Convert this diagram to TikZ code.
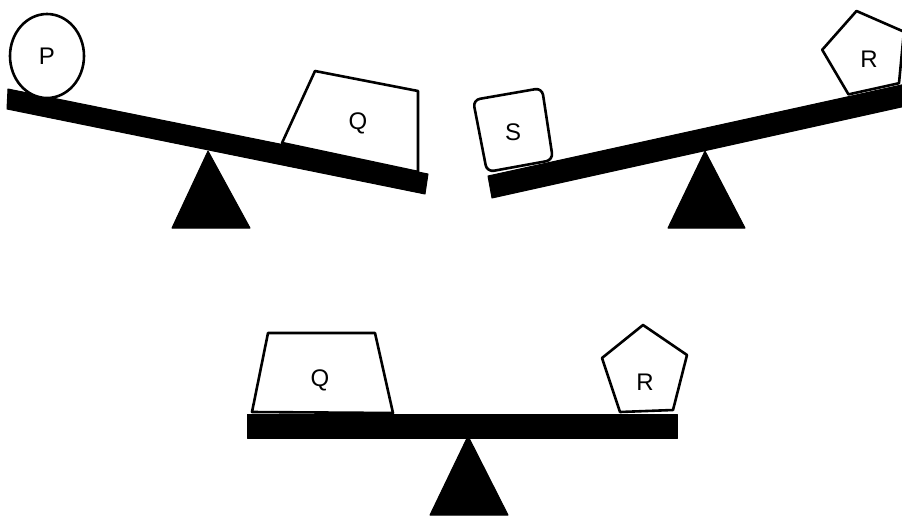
\documentclass[tikz,border=0pt]{standalone}
\usepackage{fontspec}
\setmainfont{Liberation Sans}
\begin{document}
\begin{tikzpicture}[x=1pt,y=-1pt,
  beam/.style={fill=black,draw=black,line width=1pt,line join=round},
  pivot/.style={fill=black,draw=black,line width=1pt,line join=round},
  weight/.style={draw=black,fill=white,line width=2.6pt,line join=round},
  lbl/.style={font=\fontsize{24}{28}\selectfont,inner sep=0pt}]
\useasboundingbox (0,0) rectangle (902,520);
\clip (0,0) rectangle (902,520);
\fill[white] (0,0) rectangle (902,520);
% ---------- scene 1 ----------
\draw[beam] (8,89) -- (428,174) -- (425,194) -- (7,109) -- cycle;
\draw[pivot] (208,151) -- (250,228) -- (172,228) -- cycle;
\draw[weight] (47,56) ellipse [x radius=37, y radius=42];
\draw[weight] (282,143) -- (315,71) -- (418,91) -- (418,172) -- cycle;
\node[lbl] (p1) at (47,56) {P};
\node[lbl] (q1) at (358,123) {Q};
% ---------- scene 2 ----------
\draw[beam] (488,176) -- (915,82) -- (915,104) -- (492,198) -- cycle;
\draw[pivot] (705,151) -- (745,228) -- (668,228) -- cycle;
\draw[weight,rounded corners=7pt] (473,100) -- (542,88) -- (553,160) -- (487,172) -- cycle;
\draw[weight] (856.5,11) -- (822.2,49.8) -- (848.5,94.4) -- (899,83.2) -- (903.9,31.7) -- cycle;
\node[lbl] (s2) at (513,132) {S};
\node[lbl] (r2) at (869,59) {R};
% ---------- scene 3 ----------
\draw[beam] (247,414) rectangle (677,438);
\draw[pivot] (468,436) -- (508,515) -- (430,515) -- cycle;
\draw[weight] (252,412) -- (268,333) -- (375,333) -- (393,413) -- cycle;
\draw[weight] (643,325) -- (687,355) -- (673,410) -- (620,412) -- (602,358) -- cycle;
\node[lbl] (q3) at (320,380) {Q};
\node[lbl] (r3) at (645,382) {R};
\end{tikzpicture}
\end{document}
